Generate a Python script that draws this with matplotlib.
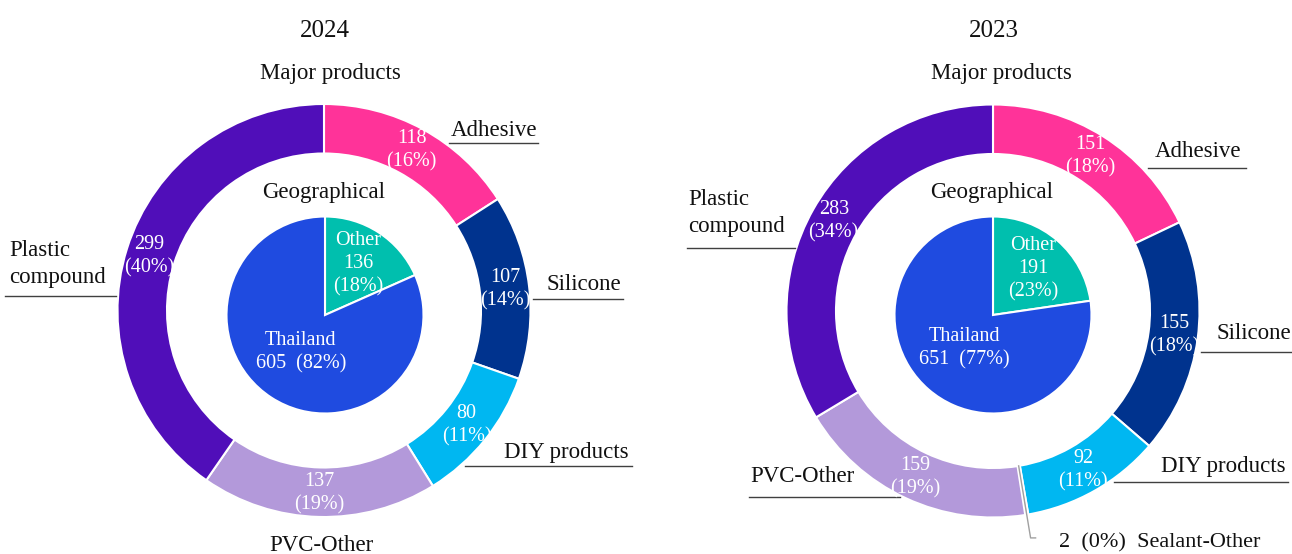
import numpy as np
import matplotlib
matplotlib.use("Agg")
from matplotlib import pyplot as plt

plt.rcParams['font.family'] = ['Liberation Serif', 'DejaVu Serif']

# data
years = ['2024', '2023']

products_2024 = ['Adhesive', 'Silicone', 'DIY products', 'PVC-Other', 'Plastic compound']
values_2024 = [118, 107, 80, 137, 299]
pct_2024 = [16, 14, 11, 19, 40]

products_2023 = ['Adhesive', 'Silicone', 'DIY products', 'Sealant-Other', 'PVC-Other', 'Plastic compound']
values_2023 = [151, 155, 92, 2, 159, 283]
pct_2023 = [18, 18, 11, 0, 19, 34]

regions = ['Other', 'Thailand']
region_values_2024 = [136, 605]
region_pct_2024 = [18, 82]
region_values_2023 = [191, 651]
region_pct_2023 = [23, 77]

product_colors = {
    'Adhesive': '#FF3399',
    'Silicone': '#00338E',
    'DIY products': '#00B7F1',
    'Sealant-Other': '#D0D0D0',
    'PVC-Other': '#B399DA',
    'Plastic compound': '#500EB9',
}
region_colors = {'Other': '#00BFAE', 'Thailand': '#1F4BE0'}

W, H = 1292, 554
TXT = '#111111'
LINE = '#404040'

# layout, image pixel coords (y from top)
R_OUT, R_IN, R_PIE = 206.5, 157, 98.5
charts = [
    dict(year=years[0], products=products_2024, values=values_2024, pct=pct_2024,
         rvals=region_values_2024, rpct=region_pct_2024,
         ring_c=(324, 310.5), pie_c=(325, 315), title_x=325, major_x=330,
         labels={
             'Adhesive': (451, 136, 'left', (449, 538, 143)),
             'Silicone': (547, 290, 'left', (533, 623, 299)),
             'DIY products': (504, 458, 'left', (465, 632, 466)),
             'PVC-Other': (321, 551, 'center', None),
             'Plastic compound': (9, 256, 'left', (5, 116, 296)),
         }),
    dict(year=years[1], products=products_2023, values=values_2023, pct=pct_2023,
         rvals=region_values_2023, rpct=region_pct_2023,
         ring_c=(993, 311), pie_c=(993, 315), title_x=994, major_x=1001,
         labels={
             'Adhesive': (1155, 157, 'left', (1148, 1246, 168)),
             'Silicone': (1216, 339, 'left', (1201, 1292, 352)),
             'DIY products': (1161, 472, 'left', (1114, 1288, 482)),
             'PVC-Other': (750, 482, 'left', (749, 900, 497)),
             'Plastic compound': (688, 205, 'left', (687, 795, 248)),
         }),
]


def yy(y):
    return H - y


fig = plt.figure(figsize=(W / 100, H / 100), dpi=100)
ax = fig.add_axes([0, 0, 1, 1])

for ch in charts:
    cx, cy = ch['ring_c']
    wedges, _ = ax.pie(ch['values'], radius=R_OUT, center=(cx, yy(cy)),
                       startangle=90, counterclock=False,
                       colors=[product_colors[p] for p in ch['products']],
                       wedgeprops=dict(width=R_OUT - R_IN, edgecolor='white', linewidth=1.5))
    # value labels on the ring
    for w, name, v, p in zip(wedges, ch['products'], ch['values'], ch['pct']):
        ang = np.deg2rad((w.theta1 + w.theta2) / 2)
        if name == 'Sealant-Other':
            x0 = cx + R_IN * np.cos(ang); y0 = yy(cy) + R_IN * np.sin(ang)
            x1 = cx + 230 * np.cos(ang); y1 = yy(cy) + 230 * np.sin(ang)
            ax.plot([x0, x1, x1 + 5], [y0, y1, y1], color='#A0A0A0', lw=1.0)
            ax.text(1059, yy(547), f"{v}  ({p}%)  {name}", fontsize=16,
                    color=TXT, ha='left', va='baseline')
            continue
        r = 183
        ax.text(cx + r * np.cos(ang), yy(cy) + r * np.sin(ang), f"{v}\n({p}%)",
                fontsize=14.5, color='white', ha='center', va='center', linespacing=1.3)

    px, py = ch['pie_c']
    pw, _ = ax.pie(ch['rvals'], radius=R_PIE, center=(px, yy(py)),
                   startangle=90, counterclock=False,
                   colors=[region_colors[r] for r in regions],
                   wedgeprops=dict(edgecolor='white', linewidth=1.5))
    for w, name, v, p in zip(pw, regions, ch['rvals'], ch['rpct']):
        ang = np.deg2rad((w.theta1 + w.theta2) / 2)
        if name == 'Other':
            r = 0.62 * R_PIE
            s = f"{name}\n{v}\n({p}%)"
        else:
            r = 0.45 * R_PIE
            s = f"{name}\n{v}  ({p}%)"
        ax.text(px + r * np.cos(ang), yy(py) + r * np.sin(ang), s,
                fontsize=14.5, color='white', ha='center', va='center', linespacing=1.3)

    # category labels with underline leaders
    for name, (tx, ty, ha, line) in ch['labels'].items():
        if name == 'Plastic compound':
            ax.text(tx, yy(ty), 'Plastic', fontsize=16.5, color=TXT, ha=ha, va='baseline')
            ax.text(tx, yy(ty + 27), 'compound', fontsize=16.5, color=TXT, ha=ha, va='baseline')
        else:
            ax.text(tx, yy(ty), name, fontsize=16.5, color=TXT, ha=ha, va='baseline')
        if line is not None:
            ax.plot([line[0], line[1]], [yy(line[2]), yy(line[2])], color=LINE, lw=1.0)

    ax.text(ch['title_x'], yy(37), ch['year'], fontsize=18, color=TXT, ha='center', va='baseline')
    ax.text(ch['major_x'], yy(79), 'Major products', fontsize=16.5, color=TXT,
            ha='center', va='baseline')
    ax.text(ch['pie_c'][0] - 1, yy(198), 'Geographical', fontsize=16.5, color=TXT,
            ha='center', va='baseline')

ax.set_xlim(0, W)
ax.set_ylim(0, H)
ax.set_aspect('equal')
ax.axis('off')

fig.savefig('out.png', dpi=100)
